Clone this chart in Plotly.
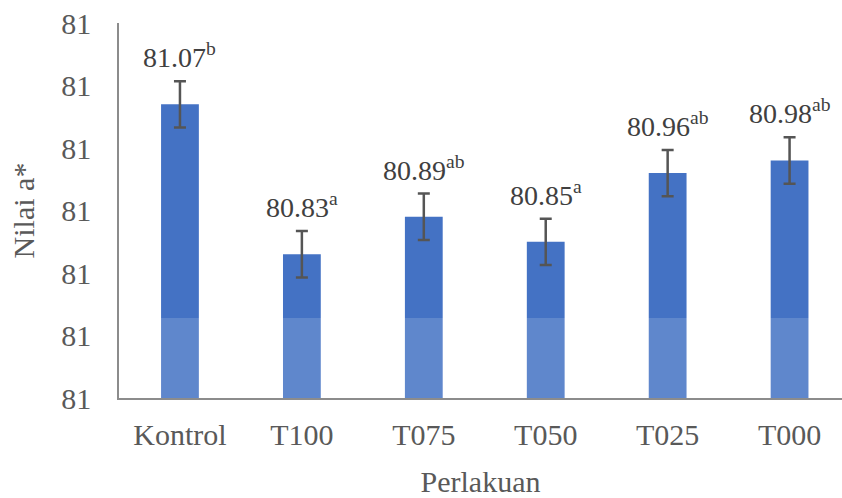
import plotly.graph_objects as go

categories = ["Kontrol", "T100", "T075", "T050", "T025", "T000"]
values = [81.07, 80.83, 80.89, 80.85, 80.96, 80.98]
errors = [0.037, 0.037, 0.037, 0.037, 0.037, 0.037]
letters = ["b", "a", "ab", "a", "ab", "ab"]
y_ticks = [80.6, 80.7, 80.8, 80.9, 81.0, 81.1, 81.2]

FONT = "Liberation Serif"
TXT = "#595959"
FS = 30

fig = go.Figure()
fig.add_trace(go.Bar(
    x=categories, y=[v - 80.6 for v in values], base=80.6,
    width=0.31, marker=dict(color="#4472C4", line=dict(width=0)),
    error_y=dict(type="data", array=errors, color="#555555", thickness=2.5, width=6),
    hoverinfo="skip",
))

for c, v, e, l in zip(categories, values, errors, letters):
    fig.add_annotation(
        x=c, y=v + e, yanchor="bottom", yshift=6, showarrow=False,
        text=f"{v:.2f}<sup>{l}</sup>",
        font=dict(family=FONT, size=28, color="#404040"),
    )

# light band from watermark in reference
fig.add_shape(type="rect", xref="paper", yref="y", x0=0, x1=1, y0=80.6, y1=80.728,
              fillcolor="rgba(255,255,255,0.15)", line=dict(width=0), layer="above")

fig.update_layout(
    width=842, height=498,
    margin=dict(l=119, r=0, t=23, b=100),
    plot_bgcolor="white", paper_bgcolor="white",
    showlegend=False, bargap=0.69,
    font=dict(family=FONT, color=TXT, size=FS),
)
fig.update_xaxes(
    range=[-0.5, 5.43], showline=True, linecolor="#8c8c8c", linewidth=1.5,
    showgrid=False, ticks="", ticklabelstandoff=9,
    tickfont=dict(family=FONT, size=FS, color=TXT),
    title=dict(text="Perlakuan", font=dict(family=FONT, size=FS, color=TXT), standoff=26),
)
fig.update_yaxes(
    range=[80.6, 81.2], tickvals=y_ticks, tickformat=".0f",
    showline=True, linecolor="#8c8c8c", linewidth=1.5, showgrid=False, zeroline=False,
    ticks="", ticklabelstandoff=20,
    tickfont=dict(family=FONT, size=FS, color=TXT),
    title=dict(text="Nilai a*", font=dict(family=FONT, size=FS, color=TXT), standoff=18),
)

fig.write_html("out.html")
